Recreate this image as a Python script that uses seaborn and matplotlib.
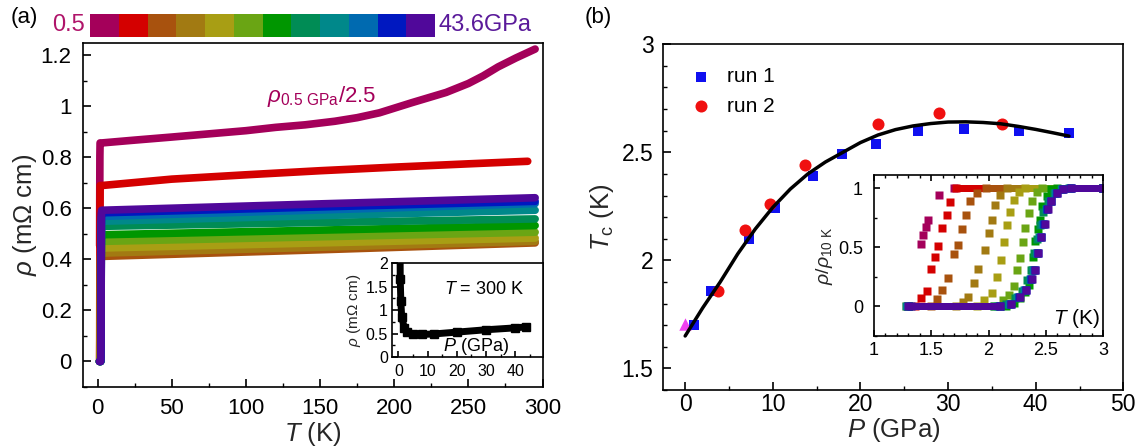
import numpy as np
import matplotlib
matplotlib.use("Agg")
import matplotlib.pyplot as plt
import matplotlib.ticker as ticker
from matplotlib.colors import ListedColormap
import seaborn as sns

# ── DATA ──────────────────────────────────────────────────────────────────────

# one colour per pressure, 0.5 GPa -> 43.6 GPa
CURVE_COLORS = ["#A4005A", "#D40000", "#A8520E", "#A27A12", "#A89E14", "#6AA514",
                "#009600", "#008C55", "#00888A", "#006AB0", "#0018C0", "#50089A"]

# panel (a): normal-state rho(T) in mOhm cm (first curve already divided by 2.5)
T_MAGENTA   = [3, 25, 50, 100, 120, 140, 160, 175, 190, 212, 235, 250, 260, 270, 282, 295]
RHO_MAGENTA = [0.857, 0.868, 0.88, 0.905, 0.918, 0.928, 0.942, 0.956, 0.975, 1.015, 1.055,
               1.09, 1.12, 1.155, 1.19, 1.225]
T_RED       = [3, 50, 100, 150, 200, 250, 290]
RHO_RED     = [0.69, 0.715, 0.732, 0.748, 0.762, 0.775, 0.785]
T_BUNDLE    = [3, 150, 295]
RHO_BUNDLE  = [
    [0.412, 0.438, 0.465],   # brown
    [0.425, 0.448, 0.471],   # gold
    [0.445, 0.465, 0.484],   # olive
    [0.471, 0.489, 0.507],   # yellow-green
    [0.497, 0.515, 0.533],   # green
    [0.530, 0.545, 0.559],   # teal-green
    [0.550, 0.572, 0.593],   # teal
    [0.569, 0.594, 0.619],   # blue
    [0.583, 0.606, 0.628],   # dark blue
    [0.593, 0.618, 0.642],   # purple
]

# panel (b) inset: rho/rho_10K vs T near the transition
R_LATE = [0, 0, 0.02, 0.08, 0.14, 0.23, 0.31, 0.45, 0.59, 0.70, 0.82, 0.89, 0.96, 0.99, 1.0, 1.0]
TRANS_T = [
    [1.41, 1.43, 1.45, 1.47, 1.57, 1.70, 3.0],
    [1.30, 1.36, 1.41, 1.46, 1.50, 1.53, 1.56, 1.59, 1.635, 1.665, 1.72, 3.0],
    [1.30, 1.50, 1.55, 1.59, 1.65, 1.70, 1.735, 1.77, 1.80, 1.84, 1.90, 1.98, 3.0],
    [1.30, 1.72, 1.78, 1.82, 1.87, 1.91, 1.97, 2.00, 2.03, 2.06, 2.10, 2.16, 3.0],
    [1.28, 1.90, 1.96, 2.03, 2.07, 2.105, 2.135, 2.16, 2.19, 2.22, 2.27, 2.32, 3.0],
    [1.30, 2.05, 2.13, 2.18, 2.22, 2.25, 2.275, 2.30, 2.32, 2.35, 2.38, 2.42, 2.47, 3.0],
    [1.30, 2.15, 2.22, 2.275, 2.32, 2.35, 2.38, 2.39, 2.41, 2.43, 2.45, 2.47, 2.51, 2.55, 2.60, 3.0],
    [1.30, 2.05, 2.15, 2.23, 2.29, 2.34, 2.37, 2.40, 2.42, 2.45, 2.48, 2.52, 2.57, 2.63, 2.70, 3.0],
    [1.28, 2.08, 2.18, 2.25, 2.31, 2.36, 2.39, 2.42, 2.445, 2.47, 2.50, 2.535, 2.58, 2.64, 2.71, 3.0],
    [1.30, 2.10, 2.19, 2.265, 2.32, 2.37, 2.40, 2.425, 2.455, 2.48, 2.51, 2.545, 2.59, 2.645, 2.72, 3.0],
    [1.32, 2.10, 2.20, 2.27, 2.325, 2.375, 2.405, 2.43, 2.46, 2.485, 2.515, 2.55, 2.595, 2.65, 2.72, 3.0],
    [1.30, 2.10, 2.20, 2.275, 2.33, 2.38, 2.41, 2.435, 2.46, 2.49, 2.52, 2.55, 2.595, 2.65, 2.72, 3.0],
]
TRANS_R = [
    [0.53, 0.60, 0.67, 0.73, 0.94, 1.0, 1.0],
    [0, 0, 0.07, 0.13, 0.32, 0.42, 0.51, 0.66, 0.77, 0.88, 1.0, 1.0],
    [0, 0, 0.06, 0.14, 0.24, 0.44, 0.52, 0.65, 0.77, 0.89, 0.96, 1.0, 1.0],
    [0, 0, 0.04, 0.08, 0.20, 0.32, 0.48, 0.62, 0.73, 0.86, 0.94, 1.0, 1.0],
    [0, 0, 0.05, 0.11, 0.25, 0.39, 0.54, 0.69, 0.80, 0.90, 0.97, 1.0, 1.0],
    [0, 0, 0.05, 0.10, 0.17, 0.31, 0.41, 0.54, 0.66, 0.79, 0.89, 0.97, 1.0, 1.0],
    [0, 0, 0.03, 0.07, 0.12, 0.18, 0.31, 0.42, 0.55, 0.65, 0.73, 0.85, 0.93, 0.99, 1.0, 1.0],
    [0, 0, 0.02, 0.07, 0.13, 0.22, 0.31, 0.45, 0.57, 0.69, 0.80, 0.89, 0.96, 0.99, 1.0, 1.0],
    R_LATE, R_LATE, R_LATE, R_LATE,
]

# panel (a) inset: rho at 300 K vs pressure
P_300   = [0.5, 0.6, 0.8, 1.1, 2, 3, 5, 8, 12, 20, 30, 40, 43.6]
RHO_300 = [3.06, 1.67, 1.2, 0.85, 0.62, 0.54, 0.49, 0.48, 0.49, 0.53, 0.58, 0.62, 0.64]

# panel (b): Tc vs P
P_RUN1  = [1.06, 2.98, 7.3, 10.3, 14.55, 17.9, 21.8, 26.6, 31.8, 38.1, 43.8]
TC_RUN1 = [1.70, 1.86, 2.10, 2.24, 2.39, 2.49, 2.54, 2.60, 2.61, 2.60, 2.59]
P_RUN2  = [3.74, 6.8, 9.66, 13.7, 22.0, 29.0, 36.2]
TC_RUN2 = [1.86, 2.14, 2.26, 2.44, 2.63, 2.68, 2.63]
P_AMB   = [0]
TC_AMB  = [1.705]
P_FIT   = [0, 2, 4, 6, 8, 10, 12, 14, 16, 18, 20, 22, 24, 26, 28, 30, 32, 34, 36, 38, 40, 42, 43.8]
TC_FIT  = [1.65, 1.78, 1.90, 2.03, 2.145, 2.245, 2.33, 2.40, 2.455, 2.50, 2.545, 2.58, 2.605,
           2.622, 2.633, 2.64, 2.641, 2.638, 2.632, 2.62, 2.606, 2.59, 2.575]

# ── SETUP ─────────────────────────────────────────────────────────────────────

sns.set_theme(style="ticks")
plt.rcParams.update({
    "font.family": ["Liberation Sans", "DejaVu Sans"],
    "mathtext.fontset": "custom",
    "mathtext.rm": "Liberation Sans",
    "mathtext.it": "Liberation Sans:italic",
    "mathtext.bf": "Liberation Sans:bold",
    "xtick.direction": "in",
    "ytick.direction": "in",
    "axes.linewidth": 1.2,
    "axes.edgecolor": "black",
    "xtick.color": "black",
    "ytick.color": "black",
    "text.color": "black",
})

fmt = ticker.FuncFormatter(lambda v, p: f"{v:g}")


def style_axis(ax, xmaj, xmin, ymaj, ymin, size, xpad, ypad, majlen=5.5, minlen=3):
    ax.xaxis.set_major_locator(ticker.MultipleLocator(xmaj))
    ax.xaxis.set_minor_locator(ticker.MultipleLocator(xmin))
    ax.yaxis.set_major_locator(ticker.MultipleLocator(ymaj))
    ax.yaxis.set_minor_locator(ticker.MultipleLocator(ymin))
    ax.xaxis.set_major_formatter(fmt)
    ax.yaxis.set_major_formatter(fmt)
    ax.tick_params(which="major", length=majlen, width=1.2, labelsize=size)
    ax.tick_params(which="minor", length=minlen, width=1.0)
    ax.tick_params(axis="x", which="major", pad=xpad)
    ax.tick_params(axis="y", which="major", pad=ypad)


fig = plt.figure(figsize=(11.41, 4.48), dpi=100)

# ── PANEL (a) ─────────────────────────────────────────────────────────────────

ax_a = fig.add_axes([0.0725, 0.1362, 0.403, 0.7685])
normal_T = [T_MAGENTA, T_RED] + [T_BUNDLE] * len(RHO_BUNDLE)
normal_R = [RHO_MAGENTA, RHO_RED] + RHO_BUNDLE
for tT, tR, nT, nR, c in zip(TRANS_T, TRANS_R, normal_T, normal_R, CURVE_COLORS):
    T = tT[:-1] + nT
    rho = [r * nR[0] for r in tR[:-1]] + nR
    ax_a.plot(T, rho, color=c, lw=5.5, solid_joinstyle="round")

ax_a.set_xlim(-10, 300)
ax_a.set_ylim(-0.1, 1.25)
style_axis(ax_a, 50, 25, 0.2, 0.1, 16, 8, 8)
ax_a.set_xlabel(r"$T$ (K)", fontsize=18.5, labelpad=1)
ax_a.set_ylabel(r"$\rho$ (mΩ cm)", fontsize=18.5, labelpad=1)
ax_a.text(114, 1.04, r"$\rho_{\rm 0.5\ GPa}$/2.5", color=CURVE_COLORS[0], fontsize=16, va="center")

# inset: rho(300 K) vs P
ax_ia = fig.add_axes([0.3436, 0.2031, 0.1323, 0.2098])
ax_ia.plot(P_300, RHO_300, color="black", lw=5, marker="s", ms=6)
ax_ia.set_xlim(-2.2, 49.5)
ax_ia.set_ylim(0, 2)
style_axis(ax_ia, 10, 5, 0.5, 0.25, 11.5, 5, 3, majlen=4, minlen=2.5)
ax_ia.set_ylabel(r"$\rho$ (mΩ cm)", fontsize=11, labelpad=2)
ax_ia.text(29.3, 1.44, r"$T$ = 300 K", fontsize=13, ha="center", va="center")
ax_ia.text(26.5, 0.22, r"$P$ (GPa)", fontsize=13, ha="center", va="center")

# pressure colour bar
cax = fig.add_axes([0.0789, 0.9174, 0.3024, 0.0513])
sns.heatmap(np.arange(len(CURVE_COLORS)).reshape(1, -1), cmap=ListedColormap(CURVE_COLORS),
            cbar=False, xticklabels=False, yticklabels=False, ax=cax)
fig.text(0.0745, 0.944, "0.5", color="#B0146A", fontsize=17, ha="right", va="center")
fig.text(0.384, 0.944, "43.6GPa", color="#5A1A9A", fontsize=17, ha="left", va="center")
fig.text(0.021, 0.962, "(a)", fontsize=16, ha="center", va="center")

# ── PANEL (b) ─────────────────────────────────────────────────────────────────

ax_b = fig.add_axes([0.5813, 0.1295, 0.4032, 0.7717])
sns.lineplot(x=P_FIT, y=TC_FIT, color="black", lw=2.5, ax=ax_b)
sns.scatterplot(x=P_RUN1, y=TC_RUN1, marker="s", color="#1010F0", s=60, linewidth=0,
                label="run 1", ax=ax_b)
sns.scatterplot(x=P_RUN2, y=TC_RUN2, marker="o", color="#F01010", s=75, linewidth=0,
                label="run 2", ax=ax_b)
sns.scatterplot(x=P_AMB, y=TC_AMB, marker="^", color="#F040F0", s=80, linewidth=0, ax=ax_b)
ax_b.set_xlim(-2.5, 50)
ax_b.set_ylim(1.4, 3.0)
style_axis(ax_b, 10, 5, 0.5, 0.1, 16.5, 2.5, 7)
ax_b.set_xlabel(r"$P$ (GPa)", fontsize=18.5, labelpad=0)
ax_b.set_ylabel(r"$T_{\rm c}$ (K)", fontsize=18.5, labelpad=4)
ax_b.legend(loc="upper left", bbox_to_anchor=(0.005, 0.975), frameon=False, fontsize=15,
            handletextpad=0.25, labelspacing=0.5, borderpad=0.2)
fig.text(0.524, 0.96, "(b)", fontsize=16, ha="center", va="center")

# inset: normalised transitions
ax_ib = fig.add_axes([0.766, 0.25, 0.2007, 0.3594])
for T, R, c in zip(TRANS_T, TRANS_R, CURVE_COLORS):
    if R[0] == R[1]:
        ax_ib.plot(T[:2], R[:2], color=c, lw=5, solid_capstyle="butt")
    ax_ib.plot(T[-2:], R[-2:], color=c, lw=5, solid_capstyle="butt")
    ax_ib.plot(T, R, ls="none", marker="s", ms=5.5, color=c, mec="none")
ax_ib.set_xlim(1, 3)
ax_ib.set_ylim(-0.25, 1.11)
style_axis(ax_ib, 0.5, 0.1, 0.5, 0.25, 13, 4.5, 8, majlen=4, minlen=2.5)
ax_ib.tick_params(axis="x", which="both", top=True)
ax_ib.set_ylabel(r"$\rho/\rho_{\rm 10\ K}$", fontsize=14, labelpad=2)
ax_ib.text(2.97, -0.10, r"$T$ (K)", fontsize=15, ha="right", va="center")

fig.savefig("out.png", dpi=100)
